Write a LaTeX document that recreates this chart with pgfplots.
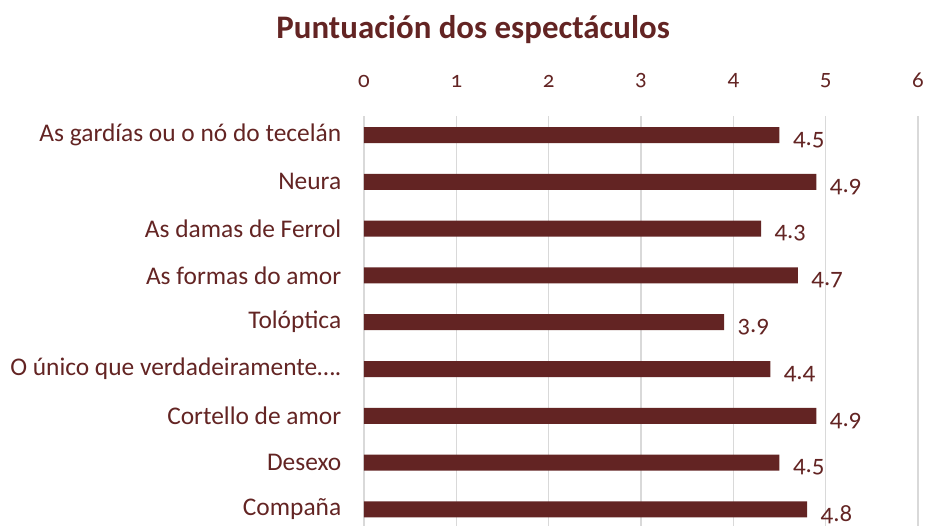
\documentclass[border=0pt]{standalone}
\usepackage{pgfplots}
\pgfplotsset{compat=1.18}
\usetikzlibrary{calc}
\usepackage{fontspec}
\setmainfont{Carlito}[Numbers=OldStyle]
\definecolor{barc}{HTML}{632423}
\definecolor{gridc}{HTML}{D9D9D9}
\begin{document}
\begin{tikzpicture}
\begin{axis}[
  scale only axis, width=554bp, height=409.7bp,
  xbar, bar width=16bp,
  xmin=0, xmax=6, ymin=-0.4, ymax=8.355, y dir=reverse,
  axis line style={draw=none}, major tick style={draw=none},
  xmajorgrids, grid style={gridc, line width=1.5bp},
  xtick={0,1,2,3,4,5,6}, ytick={0,1,2,3,4,5,6,7,8},
  yticklabels={As gardías ou o nó do tecelán, Neura, As damas de Ferrol, As formas do amor, Tolóptica, O único que verdadeiramente…., Cortello de amor, Desexo, Compaña},
  xticklabel pos=upper,
  /pgf/number format/assume math mode=true,
  xticklabel style={font=\fontsize{23}{26}\selectfont, text=barc, yshift=25bp},
  yticklabel style={font=\fontsize{25.5}{29}\selectfont, text=barc, xshift=-15bp},
  nodes near coords,
  nodes near coords style={font=\fontsize{25}{28}\selectfont, text=barc, anchor=west, xshift=10bp, yshift=-5bp,
    /pgf/number format/.cd, fixed, fixed zerofill, precision=1, assume math mode=true},
  title={Puntuación dos espectáculos},
  title style={at={(axis description cs:0.197,1.196)}, anchor=center, font=\bfseries\fontsize{33}{38}\selectfont, text=barc},
  clip=false,
]
\addplot[draw=none, fill=barc] coordinates {
  (4.5,0) (4.9,1) (4.3,2) (4.7,3) (3.9,4) (4.4,5) (4.9,6) (4.5,7) (4.8,8)
};
\end{axis}
\pgfresetboundingbox
\path ($(current axis.south west)+(-364bp,0)$) rectangle ++(925bp,526bp);
\end{tikzpicture}
\end{document}
